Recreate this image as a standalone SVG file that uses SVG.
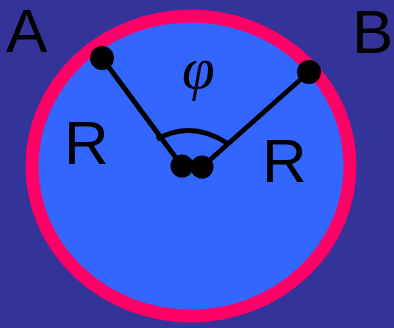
<svg xmlns="http://www.w3.org/2000/svg" width="394" height="328" viewBox="0 0 394 328">
<style>
.lbl{font-family:"Liberation Sans",Arial,sans-serif;font-size:62px;fill:#000}
.phi{font-family:"Liberation Serif","Times New Roman",serif;font-style:italic;font-size:59px;fill:#000}
.ln{stroke:#000;stroke-width:5;fill:none}
.dot{fill:#000}
</style>
<rect width="394" height="328" fill="#333399"/>
<g id="circle">
<ellipse cx="191" cy="166" rx="159" ry="150" fill="#3366ff" stroke="#ff0066" stroke-width="13"/>
</g>
<g id="connectors">
<line class="ln" x1="102" y1="58" x2="182" y2="166"/>
<line class="ln" x1="309" y1="72" x2="202" y2="167"/>
<path class="ln" d="M157,139 Q192,120 227,143"/>
</g>
<g id="pointA"><circle class="dot" cx="102" cy="58" r="12"/></g>
<g id="pointB"><circle class="dot" cx="309" cy="72" r="12"/></g>
<g id="center1"><circle class="dot" cx="182" cy="166" r="11.5"/></g>
<g id="center2"><circle class="dot" cx="202" cy="167" r="11.5"/></g>
<g id="labels">
<text class="lbl" x="6" y="52">A</text>
<text class="lbl" x="352" y="53">B</text>
<text class="lbl" x="64" y="164">R</text>
<text class="lbl" x="262" y="182">R</text>
<text class="phi" x="182" y="88">φ</text>
</g>
</svg>
